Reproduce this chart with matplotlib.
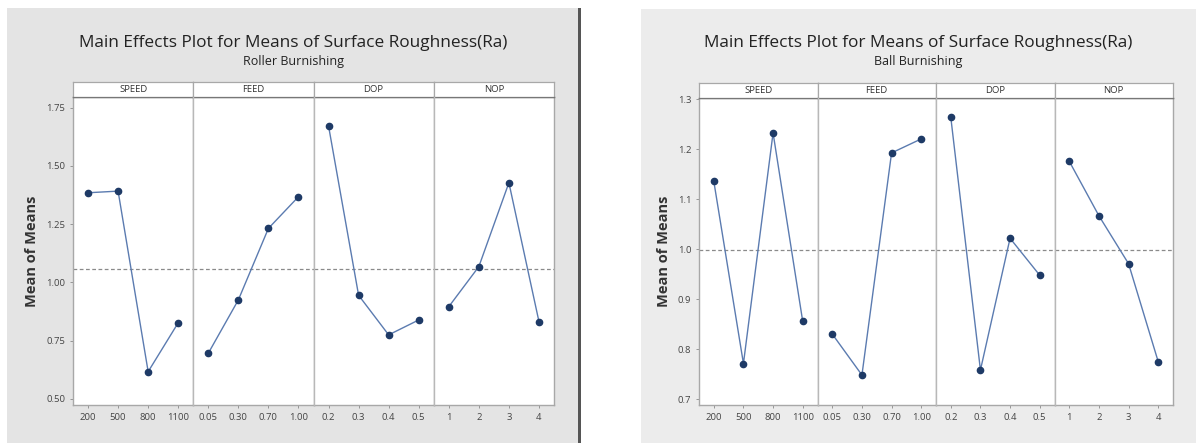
import numpy as np
import matplotlib
matplotlib.use("Agg")
import matplotlib.pyplot as plt
from matplotlib.patches import Rectangle
from matplotlib.lines import Line2D

plt.rcParams['font.family'] = ['Open Sans', 'DejaVu Sans']

# ---- data ----
factors = ["SPEED", "FEED", "DOP", "NOP"]
speed_levels = ["200", "500", "800", "1100"]
feed_levels = ["0.05", "0.30", "0.70", "1.00"]
dop_levels = ["0.2", "0.3", "0.4", "0.5"]
nop_levels = ["1", "2", "3", "4"]

roller_speed = [1.385, 1.392, 0.617, 0.827]
roller_feed = [0.696, 0.925, 1.232, 1.368]
roller_dop = [1.672, 0.945, 0.775, 0.839]
roller_nop = [0.896, 1.068, 1.428, 0.832]

ball_speed = [1.136, 0.771, 1.233, 0.856]
ball_feed = [0.830, 0.748, 1.193, 1.221]
ball_dop = [1.264, 0.758, 1.022, 0.948]
ball_nop = [1.176, 1.067, 0.971, 0.775]

roller_yticks = [0.50, 0.75, 1.00, 1.25, 1.50, 1.75]
ball_yticks = [0.7, 0.8, 0.9, 1.0, 1.1, 1.2, 1.3]

title = "Main Effects Plot for Means of Surface Roughness(Ra)"
roller_sub = "Roller Burnishing"
ball_sub = "Ball Burnishing"

W, H = 1196, 443
fig = plt.figure(figsize=(W / 100, H / 100), dpi=100)
fig.patch.set_facecolor('white')


def fx(x):
    return x / W


def fy(y):
    return 1 - y / H


def rect(x0, y0, x1, y1, z, **kw):
    fig.patches.append(Rectangle((fx(x0), fy(y1)), fx(x1) - fx(x0), fy(y0) - fy(y1),
                                 transform=fig.transFigure, figure=fig, zorder=z, **kw))


LINE = '#5b7bb0'
MARK = '#1e3a66'
GRID = '#a8a8a8'


def panel(gx0, gx1, gy0, gy1, px0, px1, py_top, py_bot, strip_top, ylim, yticks, yfmt,
          series, sub, bg, border_right=False):
    rect(gx0, gy0, gx1, gy1, -2, facecolor=bg, edgecolor='none')
    if border_right:
        rect(gx1 - 2, gy0, gx1 + 1, gy1, -1, facecolor='#555555', edgecolor='none')
    cx = (gx0 + gx1) / 2
    fig.text(fx(cx), fy(43), title, ha='center', va='center', fontsize=12.4, color='#222222')
    fig.text(fx(cx), fy(61), sub, ha='center', va='center', fontsize=9, color='#222222')
    levels_all = [speed_levels, feed_levels, dop_levels, nop_levels]
    vals = np.concatenate([np.asarray(s) for s in series])
    gmean = float(np.mean(vals))
    w = (px1 - px0) / 4
    for i in range(4):
        ax = fig.add_axes([fx(px0 + i * w), fy(py_bot), w / W, (py_bot - py_top) / H])
        ax.set_facecolor('white')
        xs = np.arange(4)
        ax.axhline(gmean, color='#8a8a8a', ls=(0, (3, 2)), lw=0.9, zorder=1)
        ax.plot(xs, series[i], color=LINE, lw=1.0, zorder=2)
        ax.plot(xs, series[i], 'o', color=MARK, ms=4.5, zorder=3)
        ax.set_xlim(-0.5, 3.5)
        ax.set_ylim(*ylim)
        ax.set_xticks(xs)
        ax.set_xticklabels(levels_all[i], fontsize=6.8, color='#444444')
        ax.set_yticks(yticks)
        if i == 0:
            ax.set_yticklabels([yfmt.format(v) for v in yticks], fontsize=6.8, color='#444444')
            ax.set_ylabel("Mean of Means", fontsize=10.5, fontweight='bold', color='#333333',
                          labelpad=5)
        else:
            ax.tick_params(axis='y', left=False, labelleft=False)
        ax.tick_params(axis='both', length=2.5, width=0.6, color='#888888', pad=3)
        for s in ['left', 'right', 'bottom', 'top']:
            ax.spines[s].set_color(GRID)
            ax.spines[s].set_linewidth(1.0)
        ax.spines['top'].set_color('#777777')
        if i > 0:
            ax.spines['left'].set_visible(False)
            xd = fx(px0 + i * w)
            fig.lines.append(Line2D([xd, xd], [fy(py_bot), fy(py_top)],
                                    transform=fig.transFigure, color='#b8b8b8', lw=1.0,
                                    zorder=5))
        # strip header
        sax = fig.add_axes([fx(px0 + i * w), fy(py_top), w / W, (py_top - strip_top) / H])
        sax.set_facecolor('white')
        sax.set_xticks([])
        sax.set_yticks([])
        for s in sax.spines.values():
            s.set_color('#a8a8a8')
            s.set_linewidth(0.9)
        sax.spines['bottom'].set_color('#777777')
        sax.text(0.5, 0.5, factors[i], ha='center', va='center', fontsize=6.8,
                 color='#333333', transform=sax.transAxes)


panel(7, 580, 8, 443, 73, 554, 97, 405, 82, (0.474, 1.796), roller_yticks, "{:.2f}",
      [roller_speed, roller_feed, roller_dop, roller_nop], roller_sub, '#e4e4e4',
      border_right=True)
panel(641, 1196, 9, 443, 699, 1173, 98, 405, 83, (0.688, 1.303), ball_yticks, "{:.1f}",
      [ball_speed, ball_feed, ball_dop, ball_nop], ball_sub, '#ececec')

fig.savefig("out.png", dpi=100, facecolor=fig.get_facecolor())
